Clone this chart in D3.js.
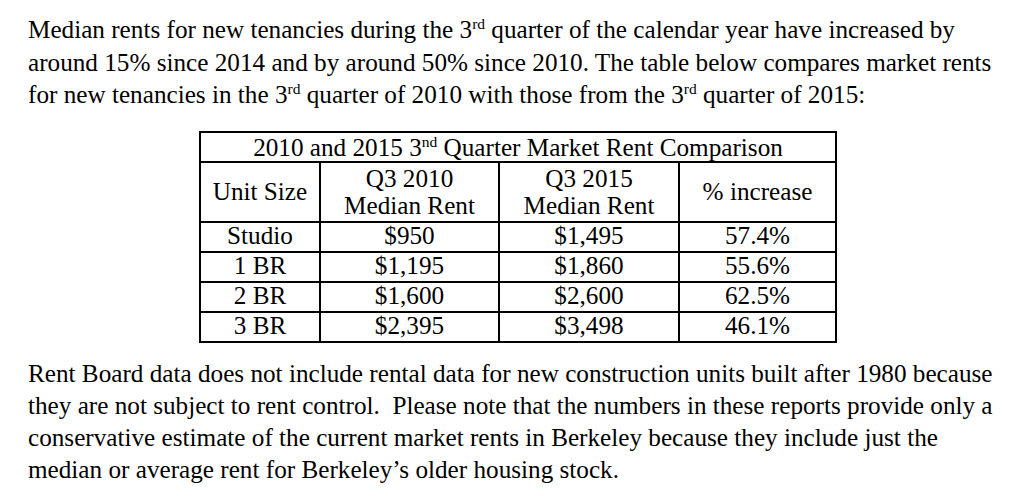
<!DOCTYPE html>
<html>
<head>
<meta charset="utf-8">
<script src="https://cdn.jsdelivr.net/npm/d3@7"></script>
<style>
  html, body { margin: 0; padding: 0; background: #fff; }
  svg text { font-family: "Liberation Serif", "Times New Roman", serif; fill: #000; }
</style>
</head>
<body>
<svg id="chart" width="1024" height="496"></svg>
<script>
// ---- data ----
const tableTitle = ["2010 and 2015 3", "nd", " Quarter Market Rent Comparison"];
const headers = [["Unit Size"], ["Q3 2010", "Median Rent"], ["Q3 2015", "Median Rent"], ["% increase"]];
const units = ["Studio", "1 BR", "2 BR", "3 BR"];
const rent2010 = ["$950", "$1,195", "$1,600", "$2,395"];
const rent2015 = ["$1,495", "$1,860", "$2,600", "$3,498"];
const pctIncrease = ["57.4%", "55.6%", "62.5%", "46.1%"];

// paragraph lines: segments [text, isSuperscript]
const introLines = [
  [["Median rents for new tenancies during the 3", false], ["rd", true], [" quarter of the calendar year have increased by", false]],
  [["around 15% since 2014 and by around 50% since 2010. The table below compares market rents", false]],
  [["for new tenancies in the 3", false], ["rd", true], [" quarter of 2010 with those from the 3", false], ["rd", true], [" quarter of 2015:", false]]
];
const noteLines = [
  "Rent Board data does not include rental data for new construction units built after 1980 because",
  "they are not subject to rent control.  Please note that the numbers in these reports provide only a",
  "conservative estimate of the current market rents in Berkeley because they include just the",
  "median or average rent for Berkeley\u2019s older housing stock."
];

// ---- drawing ----
const svg = d3.select("#chart");
const textSize = 25.2;
const supSize = 15.5;
const supShift = 9.5;
const textX = 28;

const introY = d3.scalePoint().domain(d3.range(introLines.length)).range([38, 103]);
const noteY = d3.scalePoint().domain(d3.range(noteLines.length)).range([382, 478]);

introLines.forEach((segs, i) => {
  const t = svg.append("text").attr("x", textX).attr("y", introY(i))
    .attr("font-size", textSize).style("white-space", "pre").attr("xml:space", "preserve");
  segs.forEach(([s, sup], k) => {
    const ts = t.append("tspan").text(s);
    if (sup) ts.attr("font-size", supSize).attr("dy", -supShift);
    else if (k > 0 && segs[k - 1][1]) ts.attr("dy", supShift);
  });
});

noteLines.forEach((s, i) => {
  svg.append("text").attr("x", textX).attr("y", noteY(i))
    .attr("font-size", textSize).attr("xml:space", "preserve").style("white-space", "pre").text(s);
});

// table
const colEdges = [200, 320, 499, 679, 836];
const tableTop = 132, titleBottom = 162, headerBottom = 222, tableBottom = 342;
const cols = d3.range(headers.length);
const colX = d3.scaleOrdinal().domain(cols).range(cols.map(c => (colEdges[c] + colEdges[c + 1]) / 2));
const rowY = d3.scaleBand().domain(units).range([headerBottom, tableBottom]);

const g = svg.append("g");
const lineStyle = sel => sel.attr("stroke", "#000").attr("stroke-width", 1.2).attr("shape-rendering", "crispEdges");

// outer border
g.append("rect").attr("x", colEdges[0]).attr("y", tableTop)
  .attr("width", colEdges[4] - colEdges[0]).attr("height", tableBottom - tableTop)
  .attr("fill", "none").call(lineStyle);
// horizontal lines
[titleBottom, headerBottom, ...units.slice(1).map(u => rowY(u))].forEach(y => {
  g.append("line").attr("x1", colEdges[0]).attr("x2", colEdges[4]).attr("y1", y).attr("y2", y).call(lineStyle);
});
// vertical lines
colEdges.slice(1, 4).forEach(x => {
  g.append("line").attr("x1", x).attr("x2", x).attr("y1", titleBottom).attr("y2", tableBottom).call(lineStyle);
});

const cellSize = 25.2;
// title
const tt = g.append("text").attr("x", (colEdges[0] + colEdges[4]) / 2).attr("y", 156)
  .attr("text-anchor", "middle").attr("font-size", cellSize).attr("xml:space", "preserve");
tt.append("tspan").text(tableTitle[0]);
tt.append("tspan").text(tableTitle[1]).attr("font-size", supSize).attr("dy", -supShift);
tt.append("tspan").text(tableTitle[2]).attr("dy", supShift);

// headers
headers.forEach((h, c) => {
  const ys = h.length === 1 ? [200] : [187, 214];
  h.forEach((s, k) => {
    g.append("text").attr("x", colX(c)).attr("y", ys[k]).attr("text-anchor", "middle")
      .attr("font-size", cellSize).text(s);
  });
});

// body
const columns = [units, rent2010, rent2015, pctIncrease];
columns.forEach((vals, c) => {
  g.selectAll(null).data(vals).enter().append("text")
    .attr("x", colX(c))
    .attr("y", (d, i) => rowY(units[i]) + rowY.bandwidth() - 8)
    .attr("text-anchor", "middle")
    .attr("font-size", cellSize)
    .text(d => d);
});
</script>
</body>
</html>
